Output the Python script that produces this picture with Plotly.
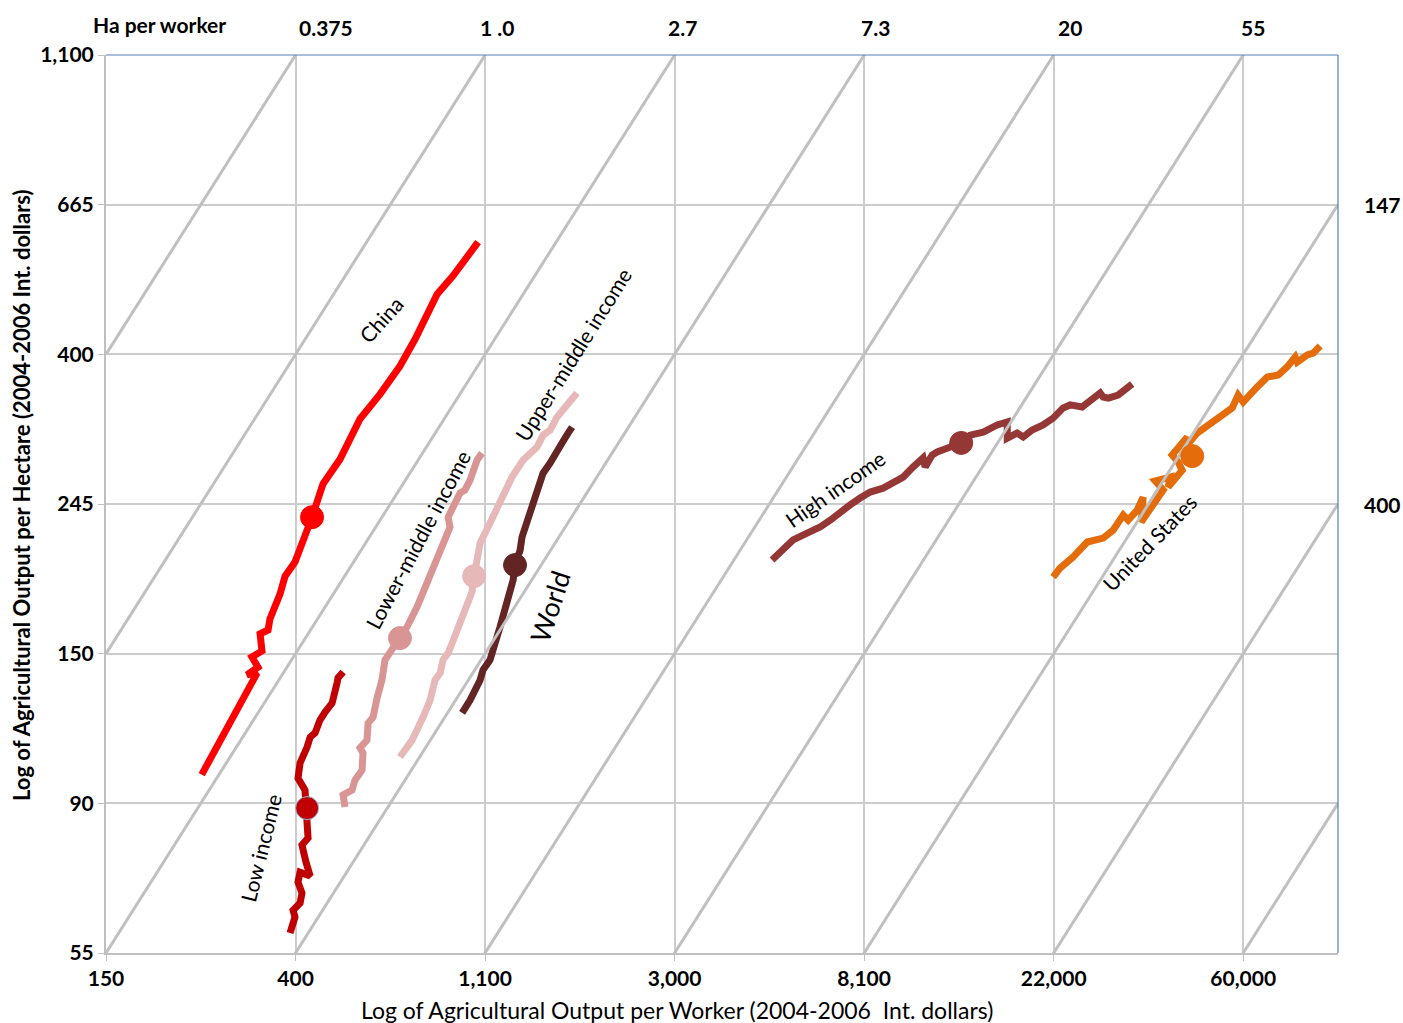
import plotly.graph_objects as go

# Values are natural logs: ln(output per worker), ln(output per hectare)
china_x = [5.505, 5.670, 5.749, 5.797, 5.744, 5.802, 5.770, 5.823, 5.813, 5.855, 5.865, 5.918, 5.945, 5.997,
           6.087, 6.129, 6.145, 6.235, 6.340, 6.446, 6.551, 6.631, 6.683, 6.726, 6.747, 6.831, 6.884, 6.963]
china_y = [4.596, 4.782, 4.882, 4.935, 4.929, 4.955, 4.989, 5.009, 5.066, 5.079, 5.116, 5.199, 5.259, 5.306,
           5.456, 5.533, 5.567, 5.650, 5.784, 5.867, 5.961, 6.051, 6.118, 6.181, 6.201, 6.262, 6.308, 6.375]

low_x = [5.971, 5.997, 5.987, 6.024, 6.034, 6.013, 6.024, 6.077, 6.055, 6.034, 6.066, 6.061, 6.055,
         6.050, 6.013, 6.024, 6.061, 6.077, 6.103, 6.129, 6.156, 6.193, 6.219, 6.224, 6.251]
low_y = [4.067, 4.120, 4.143, 4.167, 4.200, 4.237, 4.270, 4.257, 4.304, 4.361, 4.384, 4.444, 4.494,
         4.544, 4.584, 4.635, 4.688, 4.721, 4.735, 4.778, 4.805, 4.835, 4.902, 4.919, 4.939]

lmi_x = [6.261, 6.251, 6.298, 6.314, 6.351, 6.356, 6.340, 6.377, 6.383, 6.409, 6.430, 6.456, 6.472, 6.488,
         6.551, 6.588, 6.641, 6.694, 6.726, 6.778, 6.815, 6.805, 6.826, 6.868, 6.894, 6.921, 6.958, 6.984]
lmi_y = [4.488, 4.528, 4.544, 4.578, 4.611, 4.668, 4.685, 4.711, 4.768, 4.788, 4.852, 4.912, 4.979, 4.995,
         5.052, 5.089, 5.156, 5.236, 5.279, 5.356, 5.423, 5.456, 5.480, 5.537, 5.547, 5.580, 5.647, 5.670]

umi_x = [6.551, 6.615, 6.673, 6.710, 6.736, 6.763, 6.778, 6.805, 6.826, 6.858, 6.879, 6.905, 6.931, 6.942,
         6.958, 6.974, 7.016, 7.053, 7.095, 7.142, 7.201, 7.274, 7.306, 7.343, 7.380, 7.433, 7.485]
umi_y = [4.655, 4.711, 4.788, 4.845, 4.912, 4.935, 4.979, 5.002, 5.035, 5.089, 5.112, 5.169, 5.206, 5.259,
         5.313, 5.370, 5.423, 5.470, 5.523, 5.590, 5.647, 5.690, 5.730, 5.747, 5.791, 5.831, 5.871]

world_x = [6.879, 6.921, 6.974, 6.989, 7.026, 7.042, 7.069, 7.079, 7.106, 7.121, 7.148, 7.158, 7.185, 7.195,
           7.222, 7.248, 7.274, 7.306, 7.343, 7.369, 7.406, 7.438, 7.459]
world_y = [4.802, 4.845, 4.912, 4.945, 4.979, 5.022, 5.069, 5.089, 5.146, 5.189, 5.246, 5.296, 5.346, 5.390,
           5.446, 5.490, 5.547, 5.603, 5.637, 5.670, 5.704, 5.737, 5.757]

high_x = [8.514, 8.557, 8.625, 8.699, 8.768, 8.821, 8.873, 8.926, 8.979, 9.032, 9.100, 9.153, 9.206, 9.259,
          9.311, 9.322, 9.359, 9.385, 9.454, 9.512, 9.559, 9.628, 9.702, 9.755, 9.755, 9.807, 9.839, 9.886,
          9.944, 9.997, 10.050, 10.087, 10.150, 10.203, 10.245, 10.261, 10.288, 10.340, 10.388, 10.414]
high_y = [5.313, 5.340, 5.380, 5.403, 5.423, 5.446, 5.473, 5.497, 5.520, 5.540, 5.553, 5.573, 5.590, 5.624,
          5.654, 5.624, 5.664, 5.674, 5.687, 5.704, 5.730, 5.740, 5.764, 5.774, 5.720, 5.737, 5.724, 5.747,
          5.764, 5.787, 5.821, 5.831, 5.824, 5.847, 5.871, 5.857, 5.854, 5.864, 5.887, 5.901]

us_x = [9.997, 10.034, 10.103, 10.177, 10.261, 10.314, 10.367, 10.393, 10.441, 10.472, 10.462, 10.520,
        10.578, 10.536, 10.615, 10.604, 10.678, 10.657, 10.625, 10.705, 10.694, 10.757, 10.826, 10.894,
        10.942, 10.973, 11.000, 11.074, 11.127, 11.185, 11.232, 11.274, 11.285, 11.338, 11.369, 11.406]
us_y = [5.256, 5.286, 5.323, 5.373, 5.386, 5.413, 5.463, 5.446, 5.480, 5.523, 5.440, 5.497,
        5.547, 5.577, 5.590, 5.557, 5.613, 5.640, 5.664, 5.724, 5.690, 5.737, 5.771, 5.804,
        5.821, 5.864, 5.841, 5.891, 5.924, 5.931, 5.958, 5.991, 5.974, 5.998, 6.004, 6.028]

# highlighted points
mark_names = ["China", "Low income", "Lower-middle income", "Upper-middle income", "World", "High income", "United States"]
mark_x = [6.087, 6.061, 6.551, 6.942, 7.158, 9.512, 10.731]
mark_y = [5.456, 4.484, 5.052, 5.259, 5.296, 5.704, 5.660]

series_names = ["China", "Low income", "Lower-middle income", "Upper-middle income", "World", "High income", "United States"]
series_x = [china_x, low_x, lmi_x, umi_x, world_x, high_x, us_x]
series_y = [china_y, low_y, lmi_y, umi_y, world_y, high_y, us_y]
colors = ["#ff0000", "#c00000", "#d99594", "#e6b9b8", "#632523", "#953735", "#e46c0a"]

x_tick_vals = [5, 6, 7, 8, 9, 10, 11]
x_tick_text = ["150", "400", "1,100", "3,000", "8,100", "22,000", "60,000"]
y_tick_vals = [4, 4.5, 5, 5.5, 6, 6.5, 7]
y_tick_text = ["55", "90", "150", "245", "400", "665", "1,100"]

# ln(hectares per worker) iso-lines
ha_log = [-1, 0, 1, 2, 3, 4, 5, 6, 7]
top_ha_log = [-1, 0, 1, 2, 3, 4]
top_labels = ["0.375", "1 .0", "2.7", "7.3", "20", "55"]
right_ha_log = [5, 6]
right_labels = ["147", "400"]

X_MIN, X_MAX, Y_MIN, Y_MAX = 5, 11.5, 4, 7
FONT = "Lato"
BIG = 21

fig = go.Figure()

for name, xs, ys, c in zip(series_names, series_x, series_y, colors):
    fig.add_trace(go.Scatter(x=xs, y=ys, mode="lines", name=name,
                             line=dict(color=c, width=7), hoverinfo="name"))

for k in ha_log:
    fig.add_trace(go.Scatter(x=[X_MIN, X_MAX], y=[X_MIN - k, X_MAX - k], mode="lines",
                             line=dict(color="#c0c0c0", width=3), hoverinfo="skip"))

for name, mx, my, c in zip(mark_names, mark_x, mark_y, colors):
    outline = "#8fb8de" if name == "Low income" else c
    fig.add_trace(go.Scatter(x=[mx], y=[my], mode="markers", name=name,
                             marker=dict(color=c, size=23, line=dict(color=outline, width=1))))

annotations = []
shifts = [30, 12, 8, 11, 16, 10]
for k, lab, sh in zip(top_ha_log, top_labels, shifts):
    annotations.append(dict(x=Y_MAX + k, y=Y_MAX, xref="x", yref="y", text=lab, showarrow=False,
                            xshift=sh, yshift=28, font=dict(family=FONT, size=BIG, color="black", weight="bold")))
annotations.append(dict(x=X_MIN, y=Y_MAX, xref="x", yref="y", text="Ha per worker", showarrow=False,
                        xshift=53, yshift=31, font=dict(family=FONT, size=BIG, color="black", weight="bold")))
for k, lab in zip(right_ha_log, right_labels):
    annotations.append(dict(x=X_MAX, y=X_MAX - k, xref="x", yref="y", text=lab, showarrow=False,
                            xshift=44, yshift=0, font=dict(family=FONT, size=BIG, color="black", weight="bold")))

labels = [
    ("China", 6.451, 6.115, -48, 21),
    ("Upper-middle income", 7.464, 5.998, -58, 21),
    ("Lower-middle income", 6.646, 5.380, -62, 21),
    ("World", 7.343, 5.156, -72, 27),
    ("Low income", 5.818, 4.351, -76, 21),
    ("High income", 8.847, 5.553, -35, 21),
    ("United States", 10.504, 5.373, -46, 21),
]
for t, lx, ly, ang, sz in labels:
    annotations.append(dict(x=lx, y=ly, xref="x", yref="y", text=t, showarrow=False, textangle=ang,
                            xanchor="center", yanchor="middle",
                            font=dict(family=FONT, size=sz, color="black")))

annotations.append(dict(x=0.4635, y=-0.0635, xref="paper", yref="paper", showarrow=False,
                        xanchor="center", yanchor="middle",
                        text="Log of Agricultural Output per Worker (2004-2006  Int. dollars)",
                        font=dict(family=FONT, size=23, color="black")))
annotations.append(dict(x=-0.069, y=0.51, xref="paper", yref="paper", showarrow=False, textangle=-90,
                        xanchor="center", yanchor="middle",
                        text="Log of Agricultural Output per Hectare (2004-2006 Int. dollars)",
                        font=dict(family=FONT, size=22, color="black", weight="bold")))

fig.update_layout(
    width=1403, height=1023,
    margin=dict(l=106, r=65, t=55, b=70),
    plot_bgcolor="white", paper_bgcolor="white",
    showlegend=False,
    annotations=annotations,
    font=dict(family=FONT, color="black"),
    shapes=[
        dict(type="line", xref="paper", yref="paper", x0=0, x1=1, y0=1, y1=1,
             line=dict(color="#4f81bd", width=1.2)),
        dict(type="line", xref="paper", yref="paper", x0=1, x1=1, y0=0, y1=1,
             line=dict(color="#4f81bd", width=1.2)),
    ],
)
fig.update_xaxes(range=[X_MIN, X_MAX], tickvals=x_tick_vals, ticktext=x_tick_text,
                 showgrid=True, gridcolor="#cccccc", gridwidth=1.5, zeroline=False,
                 showline=True, linecolor="#bfbfbf", linewidth=2,
                 ticks="outside", ticklen=6, tickcolor="#bfbfbf",
                 tickfont=dict(family=FONT, size=BIG, color="black", weight="bold"))
fig.update_yaxes(range=[Y_MIN, Y_MAX], tickvals=y_tick_vals, ticktext=y_tick_text,
                 showgrid=True, gridcolor="#cccccc", gridwidth=1.5, zeroline=False,
                 showline=True, linecolor="#bfbfbf", linewidth=2,
                 ticks="outside", ticklen=6, tickcolor="#bfbfbf",
                 tickfont=dict(family=FONT, size=BIG, color="black", weight="bold"))

fig.write_html("out.html", include_plotlyjs=True, config={"displayModeBar": False},
               post_script="document.body.style.margin='0';document.body.style.overflow='hidden';")
